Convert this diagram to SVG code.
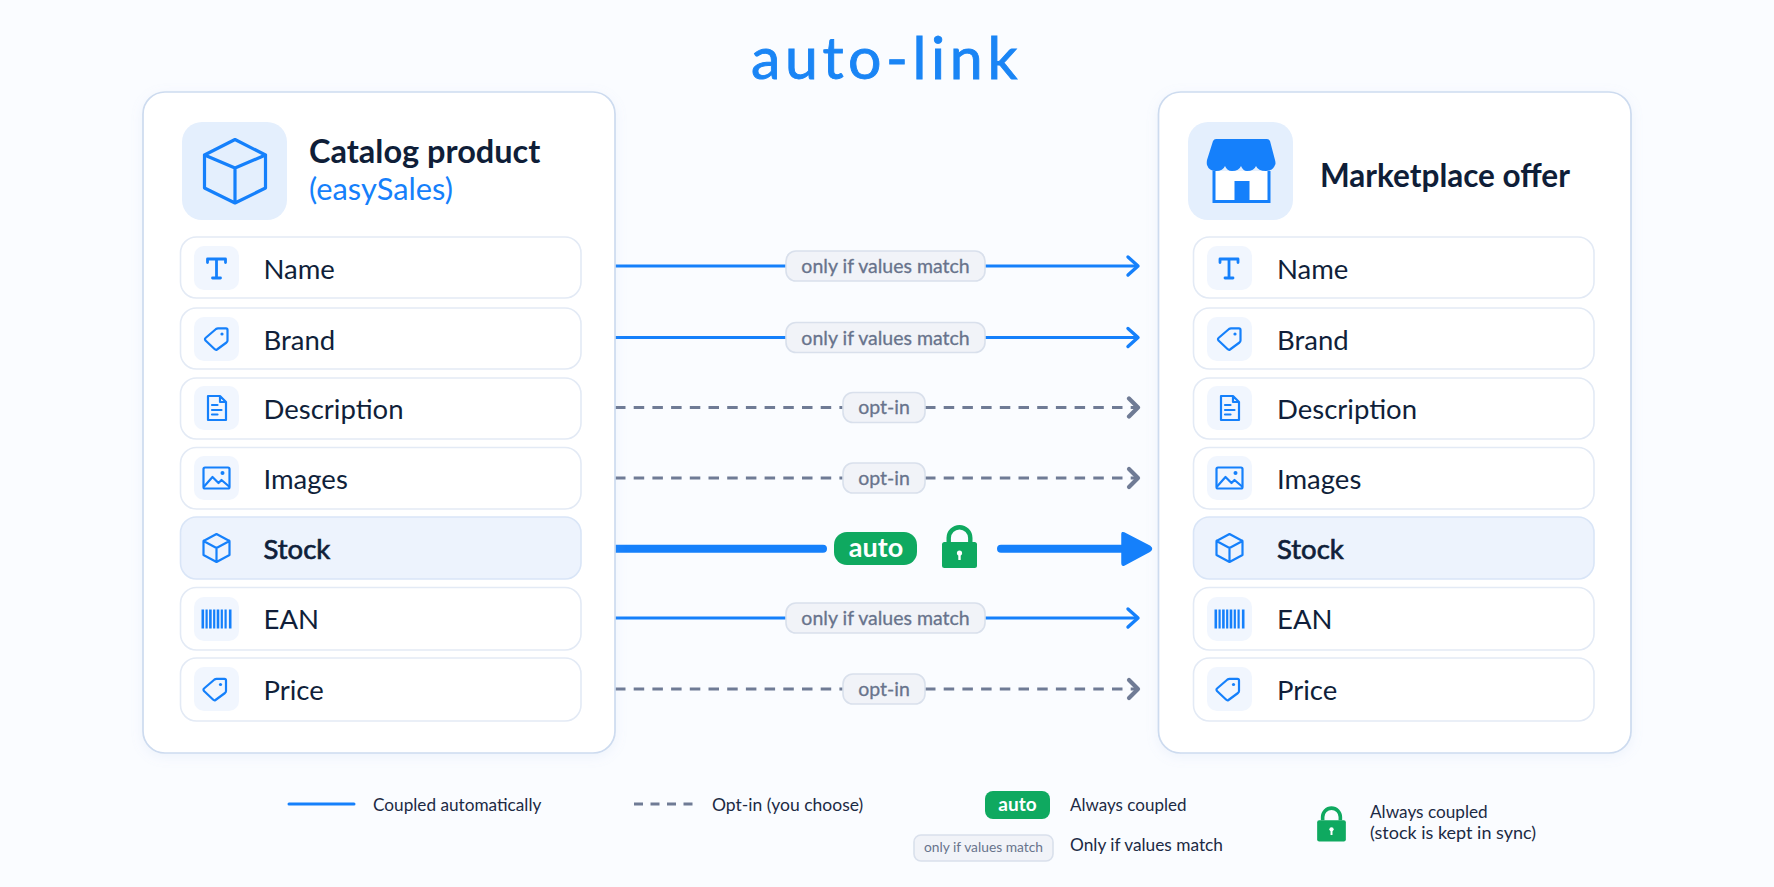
<svg xmlns="http://www.w3.org/2000/svg" width="1774" height="887" viewBox="0 0 1774 887">
<style>
text{font-family:"Lato","Liberation Sans",sans-serif}
.card{fill:#fff;stroke:#cddbef;stroke-width:1.7;filter:url(#sh)}
.row{fill:#fff;stroke:#e3eaf5;stroke-width:1.6}
.row.hi{fill:#edf3fd;stroke:#d9e5f7}
.tile{fill:#f1f6fe}
.big{fill:#e4effd}
.ic{fill:none;stroke:#1580fb;stroke-width:2.2;stroke-linejoin:round;stroke-linecap:round}
.lbl{font-size:27.5px;fill:#101f3a}
.lbl.b{stroke:#101f3a;stroke-width:.7px}
.hd{font-weight:700;fill:#0f1e38}
.sub{font-size:30.800px;fill:#1580fb}
.solid{stroke:#1580fb;stroke-width:3;fill:none}
.dash{stroke:#6f7b95;stroke-width:3;stroke-dasharray:10.5 8.2;fill:none}
.pill{fill:#f1f3f8;stroke:#d9e0ec;stroke-width:1.6}
.pt{font-size:19.500px;fill:#68738c;text-anchor:middle;stroke:#68738c;stroke-width:.3px}
.green{fill:#0fa960}
.lg{font-size:17.2px;fill:#1c2a44}
</style>
<defs>
<filter id="sh" x="-5%" y="-5%" width="110%" height="110%"><feDropShadow dx="0" dy="3" stdDeviation="6" flood-color="#8fb0e0" flood-opacity="0.12"/></filter>
<marker id="chevB" markerUnits="userSpaceOnUse" markerWidth="18" markerHeight="24" refX="14" refY="12" orient="auto"><path d="M4 3 L14 12 L4 21" fill="none" stroke="#1580fb" stroke-width="3.4" stroke-linecap="round" stroke-linejoin="round"/></marker>
<marker id="chevG" markerUnits="userSpaceOnUse" markerWidth="18" markerHeight="24" refX="14" refY="12" orient="auto"><path d="M5 3 L14 12 L5 21" fill="none" stroke="#6f7b95" stroke-width="4.2" stroke-linecap="round" stroke-linejoin="round"/></marker>
<g id="iT"><path class="ic" style="stroke-width:2.8" d="M-9-5.5V-9H9V-5.5M0-9V10M-4 10H4"/></g>
<g id="iTag"><path class="ic" d="M-.5-10Q.5-10.700 1.500-10.700H9.500Q11-10.700 11-9V1.500Q11 2.700 10 3.500L.5 10.500Q-.7 11.300-2 10L-11 1.500Q-12-.2-11-1Z"/><circle cx="5.500" cy="-5" r="1.6" fill="#1580fb"/></g>
<g id="iDoc"><path class="ic" d="M-8.5-12H3.5L9.5-6V12H-8.5ZM3.5-12V-6H9.5M-4.5-3H1M-4.5 2H5M-4.5 6.5H1"/></g>
<g id="iImg"><rect class="ic" x="-13" y="-10.5" width="26" height="21" rx="1.5"/><path class="ic" d="M-12 8L-4-1L2 5L5 2L12 8"/><circle cx="6" cy="-5" r="2" fill="#1580fb"/></g>
<g id="iCube"><path class="ic" d="M0-14L13-7V7L0 14L-13 7V-7ZM-13-7L0 0L13-7M0 0V14"/></g>
<g id="iBar" fill="#1580fb"><rect x="-15" y="-9.5" width="2.6" height="19"/><rect x="-11" y="-9.5" width="2.2" height="19"/><rect x="-7.4" y="-9.5" width="2.6" height="19"/><rect x="-3.4" y="-9.5" width="2.2" height="19"/><rect x=".2" y="-9.5" width="2.6" height="19"/><rect x="4.2" y="-9.5" width="2.2" height="19"/><rect x="8" y="-9.5" width="2.2" height="19"/><rect x="12.4" y="-9.5" width="2.6" height="19"/></g>
<g id="iLock"><path d="M-13-7V-11A13 13 0 0 1 13-11V-7H8.6V-11A8.6 8.6 0 0 0-8.6-11V-7Z" fill="#0fa960"/><rect x="-17.5" y="-7" width="35" height="26" rx="2.5" fill="#0fa960"/><circle cy="4" r="2.6" fill="#fff"/><rect x="-1.2" y="4" width="2.4" height="7" fill="#fff"/></g>
</defs>
<rect width="1774" height="887" fill="#fafcff"/>
<text id="title" x="886.500" y="79" text-anchor="middle" style="font-size:59px;letter-spacing:4.6px;fill:#1a85f5;stroke:#1a85f5;stroke-width:.9px">auto-link</text>

<g id="connectors">
<path class="solid" d="M615 266H786M985 266H1138" marker-end="url(#chevB)"/>
<path class="solid" d="M615 337.500H786M985 337.500H1138" marker-end="url(#chevB)"/>
<path class="dash" d="M615 407.500H843M925 407.500H1138" marker-end="url(#chevG)"/>
<path class="dash" d="M615 478H843M925 478H1138" marker-end="url(#chevG)"/>
<path d="M615 548.700H823M1001 548.700H1125" stroke="#1580fb" stroke-width="8" stroke-linecap="round" fill="none"/>
<path d="M1124 533L1150 546.500Q1153 548.700 1150 551L1124 565Q1122 566 1122 563V534Q1122 532 1124 533Z" fill="#1580fb" stroke="#1580fb" stroke-width="1.500"/>
<path class="solid" d="M615 618H786M985 618H1138" marker-end="url(#chevB)"/>
<path class="dash" d="M615 689H843M925 689H1138" marker-end="url(#chevG)"/>
</g>

<g id="connector-labels">
<g><rect class="pill" x="786" y="251" width="199" height="30" rx="10"/><text class="pt" x="885.500" y="273">only if values match</text></g>
<g><rect class="pill" x="786" y="322.500" width="199" height="30" rx="10"/><text class="pt" x="885.500" y="344.500">only if values match</text></g>
<g><rect class="pill" x="843" y="392.500" width="82" height="30" rx="10"/><text class="pt" x="884" y="414">opt-in</text></g>
<g><rect class="pill" x="843" y="463" width="82" height="30" rx="10"/><text class="pt" x="884" y="484.500">opt-in</text></g>
<g><rect class="green" x="834" y="532" width="83" height="33" rx="13"/><text x="876" y="557" text-anchor="middle" style="font-size:27px;font-weight:700;fill:#fff">auto</text></g>
<use href="#iLock" x="959.500" y="549"/>
<g><rect class="pill" x="786" y="603" width="199" height="30" rx="10"/><text class="pt" x="885.500" y="625">only if values match</text></g>
<g><rect class="pill" x="843" y="674" width="82" height="30" rx="10"/><text class="pt" x="884" y="695.500">opt-in</text></g>
</g>

<g id="catalog">
<rect class="card" x="143" y="92" width="472" height="661" rx="22"/>
<rect class="big" x="182" y="122" width="105" height="98" rx="20"/>
<path class="ic" style="stroke-width:3.2" d="M235 139.500L265.500 155V188L235 203L204.500 188V155ZM204.500 155L235 168L265.500 155M235 168V203"/>
<text class="hd" x="309" y="163" style="font-size:32.500px">Catalog product</text>
<text class="sub" x="309" y="200">(easySales)</text>
</g>
<g id="catalog-name"><rect class="row" x="180.500" y="237" width="400.500" height="61" rx="16"/><rect class="tile" x="194" y="246" width="45" height="44" rx="10"/><use href="#iT" x="216.500" y="268"/><text class="lbl" x="263.500" y="279">Name</text></g>
<g id="catalog-brand"><rect class="row" x="180.500" y="308" width="400.500" height="61" rx="16"/><rect class="tile" x="194" y="317" width="45" height="44" rx="10"/><use href="#iTag" x="216.500" y="339"/><text class="lbl" x="263.500" y="350">Brand</text></g>
<g id="catalog-description"><rect class="row" x="180.500" y="378" width="400.500" height="61" rx="16"/><rect class="tile" x="194" y="386" width="45" height="44" rx="10"/><use href="#iDoc" x="216.500" y="408"/><text class="lbl" x="263.500" y="419">Description</text></g>
<g id="catalog-images"><rect class="row" x="180.500" y="447.500" width="400.500" height="61.500" rx="16"/><rect class="tile" x="194" y="456" width="45" height="44" rx="10"/><use href="#iImg" x="216.500" y="478"/><text class="lbl" x="263.500" y="489">Images</text></g>
<g id="catalog-stock"><rect class="row hi" x="180.500" y="517" width="400.500" height="62" rx="16"/><use href="#iCube" x="216.500" y="548"/><text class="lbl b" x="263.500" y="559">Stock</text></g>
<g id="catalog-ean"><rect class="row" x="180.500" y="587.500" width="400.500" height="62.500" rx="16"/><rect class="tile" x="194" y="597" width="45" height="44" rx="10"/><use href="#iBar" x="216.500" y="619"/><text class="lbl" x="263.500" y="629">EAN</text></g>
<g id="catalog-price"><rect class="row" x="180.500" y="658" width="400.500" height="63" rx="16"/><rect class="tile" x="194" y="667" width="45" height="44" rx="10"/><use href="#iTag" x="215" y="689.500"/><text class="lbl" x="263.500" y="700">Price</text></g>

<g id="marketplace">
<rect class="card" x="1158.500" y="92" width="472.500" height="661" rx="22"/>
<rect class="big" x="1188" y="122" width="105" height="98" rx="20"/>
<path d="M1214 171V201.500H1269V171" fill="#fff" stroke="#1580fb" stroke-width="3"/>
<rect x="1234.500" y="181" width="15" height="21" fill="#1580fb"/>
<path d="M1216 139H1267Q1269 139 1270 141L1275 160Q1276 164 1275 165Q1273 171 1266 171Q1258 171 1256 166Q1254 171 1247 171Q1243 171 1241 166Q1239 171 1232 171Q1227 171 1225 166Q1223 171 1216 171Q1209 171 1207 165Q1206.500 163 1207 160L1213 141Q1214 139 1216 139Z" fill="#1580fb"/>
<text class="hd" x="1320" y="187" style="font-size:31.500px">Marketplace offer</text>
</g>
<g id="market-name"><rect class="row" x="1193.500" y="237" width="400.500" height="61" rx="16"/><rect class="tile" x="1207" y="246" width="45" height="44" rx="10"/><use href="#iT" x="1229" y="268"/><text class="lbl" x="1277" y="279">Name</text></g>
<g id="market-brand"><rect class="row" x="1193.500" y="308" width="400.500" height="61" rx="16"/><rect class="tile" x="1207" y="317" width="45" height="44" rx="10"/><use href="#iTag" x="1229.500" y="339"/><text class="lbl" x="1277" y="350">Brand</text></g>
<g id="market-description"><rect class="row" x="1193.500" y="378" width="400.500" height="61" rx="16"/><rect class="tile" x="1207" y="386" width="45" height="44" rx="10"/><use href="#iDoc" x="1229.500" y="408"/><text class="lbl" x="1277" y="419">Description</text></g>
<g id="market-images"><rect class="row" x="1193.500" y="447.500" width="400.500" height="61.500" rx="16"/><rect class="tile" x="1207" y="456" width="45" height="44" rx="10"/><use href="#iImg" x="1229.500" y="478"/><text class="lbl" x="1277" y="489">Images</text></g>
<g id="market-stock"><rect class="row hi" x="1193.500" y="517" width="400.500" height="62" rx="16"/><use href="#iCube" x="1229.500" y="548"/><text class="lbl b" x="1277" y="559">Stock</text></g>
<g id="market-ean"><rect class="row" x="1193.500" y="587.500" width="400.500" height="62.500" rx="16"/><rect class="tile" x="1207" y="597" width="45" height="44" rx="10"/><use href="#iBar" x="1229.500" y="619"/><text class="lbl" x="1277" y="629">EAN</text></g>
<g id="market-price"><rect class="row" x="1193.500" y="658" width="400.500" height="63" rx="16"/><rect class="tile" x="1207" y="667" width="45" height="44" rx="10"/><use href="#iTag" x="1228" y="689.500"/><text class="lbl" x="1277" y="700">Price</text></g>

<g id="legend">
<path d="M289 804H354" stroke="#1580fb" stroke-width="3" stroke-linecap="round"/>
<text class="lg" x="373" y="811">Coupled automatically</text>
<path d="M634 804H694" stroke="#6f7b95" stroke-width="3" stroke-dasharray="9 7.500"/>
<text class="lg" x="712" y="811" style="font-size:17.5px">Opt-in (you choose)</text>
<rect class="green" x="985" y="791" width="65" height="28" rx="8"/>
<text x="1017.500" y="811" text-anchor="middle" style="font-size:19px;font-weight:700;fill:#fff">auto</text>
<text class="lg" x="1070" y="811" style="font-size:17px">Always coupled</text>
<rect class="pill" x="914" y="835" width="139" height="26" rx="7"/>
<text x="983.500" y="852" text-anchor="middle" style="font-size:13.8px;fill:#68738c">only if values match</text>
<text class="lg" x="1070" y="851" style="font-size:17.3px">Only if values match</text>
<g transform="translate(1331.500 826) scale(0.82)"><use href="#iLock"/></g>
<text class="lg" x="1370" y="818">Always coupled</text>
<text class="lg" x="1370" y="839" style="font-size:18px">(stock is kept in sync)</text>
</g>
</svg>
